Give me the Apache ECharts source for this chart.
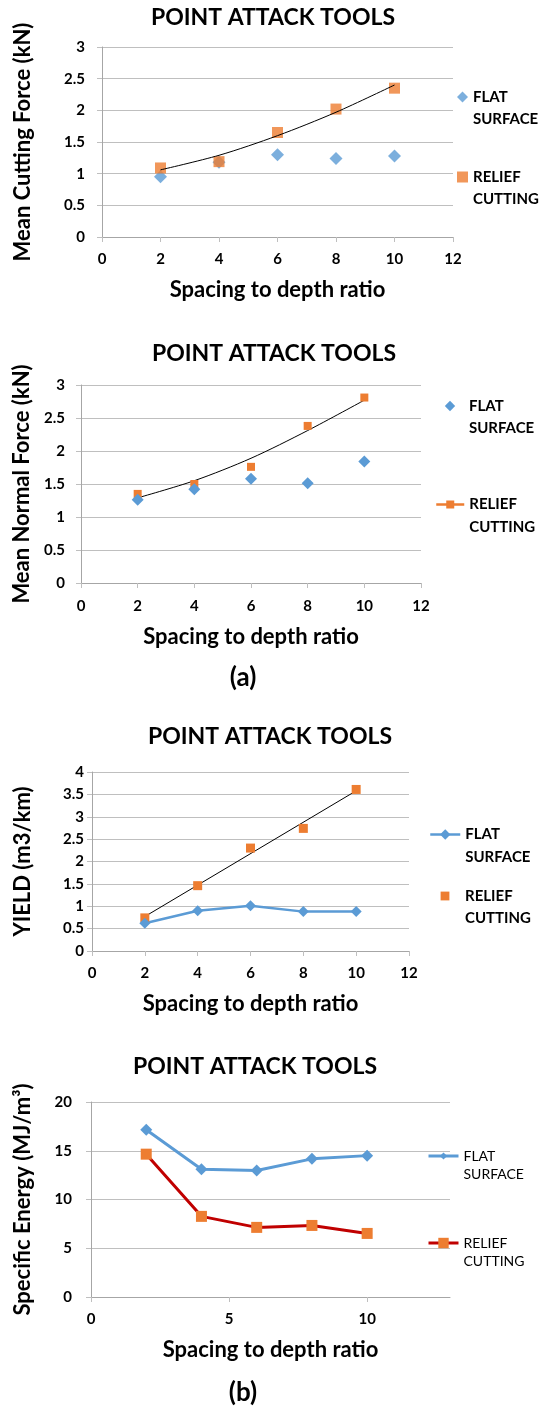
<!DOCTYPE html>
<html>
<head>
<meta charset="utf-8">
<script src="https://cdn.jsdelivr.net/npm/echarts@6/dist/echarts.min.js"></script>
<style>
html,body{margin:0;padding:0;background:#fff;}
#c{width:544px;height:1408px;}
</style>
</head>
<body>
<div id="c"></div>
<script>
// ---------- data ----------
var spacing = [2, 4, 6, 8, 10];

var cutFlat   = [0.95, 1.18, 1.30, 1.24, 1.28];
var cutRelief = [1.09, 1.19, 1.65, 2.02, 2.35];
var cutTrend  = [1.06, 1.29, 1.60, 1.97, 2.40];

var normFlat   = [1.26, 1.42, 1.58, 1.51, 1.84];
var normRelief = [1.35, 1.50, 1.76, 2.38, 2.81];
var normTrend  = [1.29, 1.55, 1.89, 2.31, 2.77];

var yieldFlat   = [0.62, 0.90, 1.01, 0.88, 0.88];
var yieldRelief = [0.74, 1.46, 2.30, 2.74, 3.61];
var yieldTrendX = [2, 10];
var yieldTrend  = [0.77, 3.58];

var energyFlat   = [17.15, 13.1, 12.97, 14.17, 14.5];
var energyRelief = [14.65, 8.27, 7.14, 7.34, 6.52];

var titleText = 'POINT ATTACK TOOLS';
var xName = 'Spacing to depth ratio';
var yNames = ['Mean Cutting Force (kN)', 'Mean Normal Force (kN)', 'YIELD (m3/km)', 'Specific Energy (MJ/m\u00B3)'];
var legendNames = {flat: ['FLAT', 'SURFACE'], relief: ['RELIEF', 'CUTTING']};
var panelLabels = ['(a)', '(b)'];

// ---------- helpers ----------
function zip(xs, ys) { return xs.map(function (x, i) { return [x, ys[i]]; }); }

var FONT = 'Lato';
var BLUE = '#5B9BD5', ORANGE = '#ED7D31', RED = '#C00000';

function xAxis(gi, max, interval, margin, gap, hideMax) {
  return {
    type: 'value', gridIndex: gi, min: 0, max: max, interval: interval,
    axisLine: {show: true, onZero: false, lineStyle: {color: '#A6A6A6', width: 1}},
    axisTick: {show: true, length: 5, lineStyle: {color: '#BFBFBF'}},
    splitLine: {show: false},
    axisLabel: {margin: margin, fontFamily: FONT, fontWeight: 'bold', fontSize: 15, color: '#000',
      showMaxLabel: hideMax ? false : true},
    name: xName, nameLocation: 'middle', nameGap: gap,
    nameTextStyle: {fontFamily: FONT, fontWeight: 'bold', fontSize: 22, color: '#000'}
  };
}
function yAxis(gi, max, interval, margin, name, gap) {
  return {
    type: 'value', gridIndex: gi, min: 0, max: max, interval: interval,
    axisLine: {show: true, lineStyle: {color: '#A6A6A6', width: 1}},
    axisTick: {show: true, length: 5, lineStyle: {color: '#BFBFBF'}},
    splitLine: {show: true, lineStyle: {color: '#BFBFBF', width: 1}},
    axisLabel: {margin: margin, fontFamily: FONT, fontWeight: 'bold', fontSize: 15, color: '#000'},
    name: name, nameLocation: 'middle', nameGap: gap, nameRotate: 90,
    nameTextStyle: {fontFamily: FONT, fontWeight: 'bold', fontSize: 22, color: '#000'}
  };
}
var nameMap = {};
// a blank first line keeps the icon level with the first text line
function legend(name, lines, left, top, w, h, bold, lh, lineStyle, itemStyle) {
  nameMap[name] = '\u00A0\n' + lines.join('\n');
  var l = {
    data: [name], left: left, top: top, padding: 0, itemWidth: w, itemHeight: h,
    selectedMode: false, orient: 'vertical',
    formatter: function (n) { return nameMap[n]; },
    textStyle: {fontFamily: FONT, fontWeight: bold ? 'bold' : 'normal', fontSize: bold ? 15 : 14,
      color: '#000', lineHeight: lh}
  };
  if (lineStyle) l.lineStyle = lineStyle;
  if (itemStyle) l.itemStyle = itemStyle;
  return l;
}
function gtext(text, x, y, size) {
  return {type: 'text', x: x, y: y, style: {text: text, fontFamily: FONT, fontWeight: 'bold',
    fontSize: size, fill: '#000', align: 'center', verticalAlign: 'middle'}};
}

var option = {
  animation: false,
  backgroundColor: '#fff',
  graphic: [
    gtext(titleText, 273, 18, 23),
    gtext(titleText, 274, 354, 23),
    gtext(titleText, 270, 737, 23),
    gtext(titleText, 255, 1067, 23),
    gtext(panelLabels[0], 243, 678, 26),
    gtext(panelLabels[1], 243, 1393, 26)
  ],
  grid: [
    {left: 102, top: 47, width: 351, height: 190},
    {left: 81, top: 385, width: 340, height: 198},
    {left: 92, top: 772, width: 317, height: 179},
    {left: 91, top: 1102, width: 359, height: 195}
  ],
  xAxis: [
    xAxis(0, 12, 2, 15, 42),
    xAxis(1, 12, 2, 16, 43),
    xAxis(2, 12, 2, 15, 42),
    xAxis(3, 13, 5, 15, 42, true)
  ],
  yAxis: [
    yAxis(0, 3, 0.5, 17, yNames[0], 68),
    yAxis(1, 3, 0.5, 16, yNames[1], 47),
    yAxis(2, 4, 0.5, 8, yNames[2], 58),
    yAxis(3, 20, 5, 19, yNames[3], 57)
  ],
  legend: [
    legend('c1f', legendNames.flat, 457, 64, 11, 11, true, 22),
    legend('c1r', legendNames.relief, 457, 144, 11, 11, true, 22),
    legend('c2f', legendNames.flat, 435, 373, 28, 13, true, 22, {opacity: 0}),
    legend('c2r', legendNames.relief, 435, 470, 28, 10, true, 23, {opacity: 1, width: 2.5, color: ORANGE}),
    legend('c3f', legendNames.flat, 429, 800, 30, 13, true, 23, {opacity: 1, width: 2.5, color: BLUE}),
    legend('c3r', legendNames.relief, 429, 863, 30, 11, true, 22, {opacity: 0}),
    legend('c4f', legendNames.flat, 427, 1129, 30, 9, false, 18, {opacity: 1, width: 3, color: BLUE}),
    legend('c4r', legendNames.relief, 427, 1216, 30, 13, false, 18, {opacity: 1, width: 3, color: RED}, {color: ORANGE})
  ],
  series: [
    // chart 1
    {name: 'c1f', type: 'scatter', xAxisIndex: 0, yAxisIndex: 0, symbol: 'diamond', symbolSize: 13,
      itemStyle: {color: BLUE}, data: zip(spacing, cutFlat)},
    {name: 'c1r', type: 'scatter', xAxisIndex: 0, yAxisIndex: 0, symbol: 'rect', symbolSize: 11,
      itemStyle: {color: ORANGE}, data: zip(spacing, cutRelief)},
    {name: 'c1t', type: 'line', xAxisIndex: 0, yAxisIndex: 0, showSymbol: false, smooth: 0.3, silent: true,
      lineStyle: {color: '#000', width: 1}, itemStyle: {color: '#000'}, data: zip(spacing, cutTrend)},
    // chart 2
    {name: 'c2r', type: 'line', xAxisIndex: 1, yAxisIndex: 1, symbol: 'rect', symbolSize: 8, showSymbol: true,
      lineStyle: {opacity: 0}, itemStyle: {color: ORANGE}, data: zip(spacing, normRelief)},
    {name: 'c2f', type: 'line', xAxisIndex: 1, yAxisIndex: 1, symbol: 'diamond', symbolSize: 12, showSymbol: true,
      lineStyle: {opacity: 0}, itemStyle: {color: BLUE}, data: zip(spacing, normFlat)},
    {name: 'c2t', type: 'line', xAxisIndex: 1, yAxisIndex: 1, showSymbol: false, smooth: 0.3, silent: true,
      lineStyle: {color: '#000', width: 1}, itemStyle: {color: '#000'}, data: zip(spacing, normTrend)},
    // chart 3
    {name: 'c3r', type: 'line', xAxisIndex: 2, yAxisIndex: 2, symbol: 'rect', symbolSize: 9, showSymbol: true,
      lineStyle: {opacity: 0}, itemStyle: {color: ORANGE}, data: zip(spacing, yieldRelief)},
    {name: 'c3f', type: 'line', xAxisIndex: 2, yAxisIndex: 2, symbol: 'diamond', symbolSize: 11, showSymbol: true,
      lineStyle: {color: BLUE, width: 2.5}, itemStyle: {color: BLUE}, data: zip(spacing, yieldFlat)},
    {name: 'c3t', type: 'line', xAxisIndex: 2, yAxisIndex: 2, showSymbol: false, silent: true,
      lineStyle: {color: '#000', width: 1}, itemStyle: {color: '#000'}, data: zip(yieldTrendX, yieldTrend)},
    // chart 4
    {name: 'c4f', type: 'line', xAxisIndex: 3, yAxisIndex: 3, symbol: 'diamond', symbolSize: 12, showSymbol: true,
      lineStyle: {color: BLUE, width: 3}, itemStyle: {color: BLUE}, data: zip(spacing, energyFlat)},
    {name: 'c4r', type: 'line', xAxisIndex: 3, yAxisIndex: 3, symbol: 'rect', symbolSize: 11, showSymbol: true,
      lineStyle: {color: RED, width: 3}, itemStyle: {color: ORANGE}, data: zip(spacing, energyRelief)}
  ]
};

var chart = echarts.init(document.getElementById('c'), null, {renderer: 'canvas'});
chart.setOption(option);
</script>
</body>
</html>
